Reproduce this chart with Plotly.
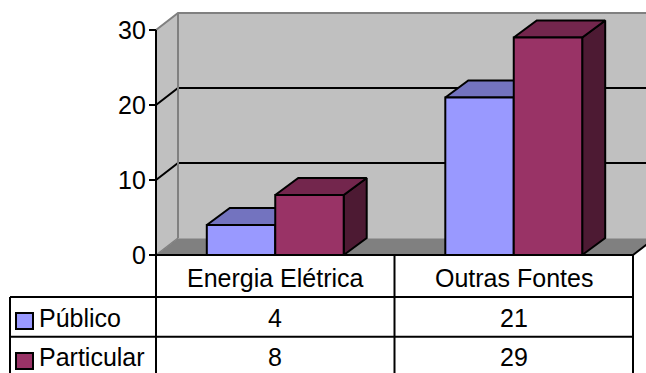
import plotly.graph_objects as go

# Data
categories = ["Energia Elétrica", "Outras Fontes"]
series_names = ["Público", "Particular"]
publico = [4, 21]
particular = [8, 29]
y_ticks = [0, 10, 20, 30]

# Colours per series: front, top, side faces
front_colors = ["#9999FF", "#993366"]
top_colors = ["#7373BF", "#73264D"]
side_colors = ["#4D4D80", "#4D1A33"]
WALL = "#C0C0C0"
FLOOR = "#808080"
EDGE = "#808080"
FONT = dict(family="Liberation Sans, Arial, sans-serif", size=25, color="black")

# Geometry (x in category units, y in value units)
W, H = 646, 373
PXU, PXV = 238.5, 7.5          # pixels per category unit / per value unit
X0PX, Y0PX = 156, 255          # pixel position of the origin
DX, DY = 22 / PXU, 17 / PXV    # depth offset of the back wall
DXB = 23 / PXU                 # depth offset of a bar
BAR_W = 0.287
YMAX = 30
NCAT = len(categories)

def ux(px):
    return (px - X0PX) / PXU

def vy(py):
    return (Y0PX - py) / PXV

fig = go.Figure()

def poly(xs, ys, fill, line_color="black", lw=2):
    fig.add_trace(go.Scatter(
        x=xs + [xs[0]], y=ys + [ys[0]], mode="lines", fill="toself",
        fillcolor=fill, line=dict(color=line_color, width=lw),
        hoverinfo="skip", showlegend=False))

def seg(xs, ys, color="black", lw=2):
    fig.add_trace(go.Scatter(
        x=xs, y=ys, mode="lines", line=dict(color=color, width=lw),
        hoverinfo="skip", showlegend=False))

# Walls and floor
poly([0, NCAT, NCAT + DX, DX], [0, 0, DY, DY], FLOOR, FLOOR, 1)
poly([0, 0, DX, DX], [0, YMAX, YMAX + DY, DY], WALL, WALL, 1)
poly([DX, DX, NCAT + DX, NCAT + DX], [DY, YMAX + DY, YMAX + DY, DY], WALL, WALL, 1)

# Gridlines on the walls
for t in y_ticks[1:-1]:
    seg([0, DX, NCAT + DX], [t, t + DY, t + DY], "black", 2)
# Wall edges
seg([0, DX, NCAT + DX], [YMAX, YMAX + DY, YMAX + DY], EDGE, 2)
seg([DX, DX], [DY, YMAX + DY], EDGE, 2)
seg([0, DX], [0, DY], EDGE, 1.5)
seg([NCAT, NCAT + DX], [0, DY], "black", 2)

# 3D bars
def bar(x0, x1, h, k):
    x0b, x1b = x0 + DXB, x1 + DXB
    poly([x1, x1, x1b, x1b], [0, h, h + DY, DY], side_colors[k])
    poly([x0, x1, x1b, x0b], [h, h, h + DY, h + DY], top_colors[k])
    poly([x0, x1, x1, x0], [0, 0, h, h], front_colors[k])

for i in range(NCAT):
    c = i + 0.5
    bar(c - BAR_W, c, publico[i], 0)
    bar(c, c + BAR_W, particular[i], 1)

# Value axis line, ticks and labels
seg([0, 0], [YMAX, vy(H + 5)], "black", 2)
for t in y_ticks:
    seg([ux(149), 0], [t, t], "black", 2)

annotations = []
for t in y_ticks:
    annotations.append(dict(x=ux(148), y=t, text=str(t), xanchor="right",
                            yanchor="middle", showarrow=False, font=FONT))

# Data table
row1, row2, row3 = vy(297), vy(336.7), vy(377)
left = ux(10)
seg([0, NCAT], [0, 0], "black", 2)
seg([left, NCAT], [row1, row1], "black", 2)
seg([left, NCAT], [row2, row2], "black", 2)
seg([left, NCAT], [row3, row3], "black", 2)
seg([left, left], [row1, row3], "black", 2)
for i in range(1, NCAT + 1):
    seg([i, i], [0, row3], "black", 2)

for i, cat in enumerate(categories):
    annotations.append(dict(x=i + 0.5, y=vy(277.5), text=cat, showarrow=False,
                            xanchor="center", yanchor="middle", font=FONT))
    annotations.append(dict(x=i + 0.5, y=vy(317.5), text=str(publico[i]),
                            showarrow=False, xanchor="center", yanchor="middle", font=FONT))
    annotations.append(dict(x=i + 0.5, y=vy(356.5), text=str(particular[i]),
                            showarrow=False, xanchor="center", yanchor="middle", font=FONT))

shapes = []
key_rows = [(313, 329, 317.5), (353, 369, 356.5)]
for k, name in enumerate(series_names):
    top_px, bot_px, mid_px = key_rows[k]
    shapes.append(dict(type="rect", xref="x", yref="y", x0=ux(16), x1=ux(33),
                       y0=vy(bot_px), y1=vy(top_px), fillcolor=front_colors[k],
                       line=dict(color="black", width=2)))
    annotations.append(dict(x=ux(37), y=vy(mid_px), text=name, showarrow=False,
                            xanchor="left", yanchor="middle", font=FONT))

fig.update_layout(
    width=W, height=H, margin=dict(l=0, r=0, t=0, b=0),
    paper_bgcolor="white", plot_bgcolor="white",
    xaxis=dict(range=[ux(0), ux(W)], visible=False, fixedrange=True),
    yaxis=dict(range=[vy(H), vy(0)], visible=False, fixedrange=True),
    annotations=annotations, shapes=shapes, showlegend=False,
)

fig.write_html("out.html")
